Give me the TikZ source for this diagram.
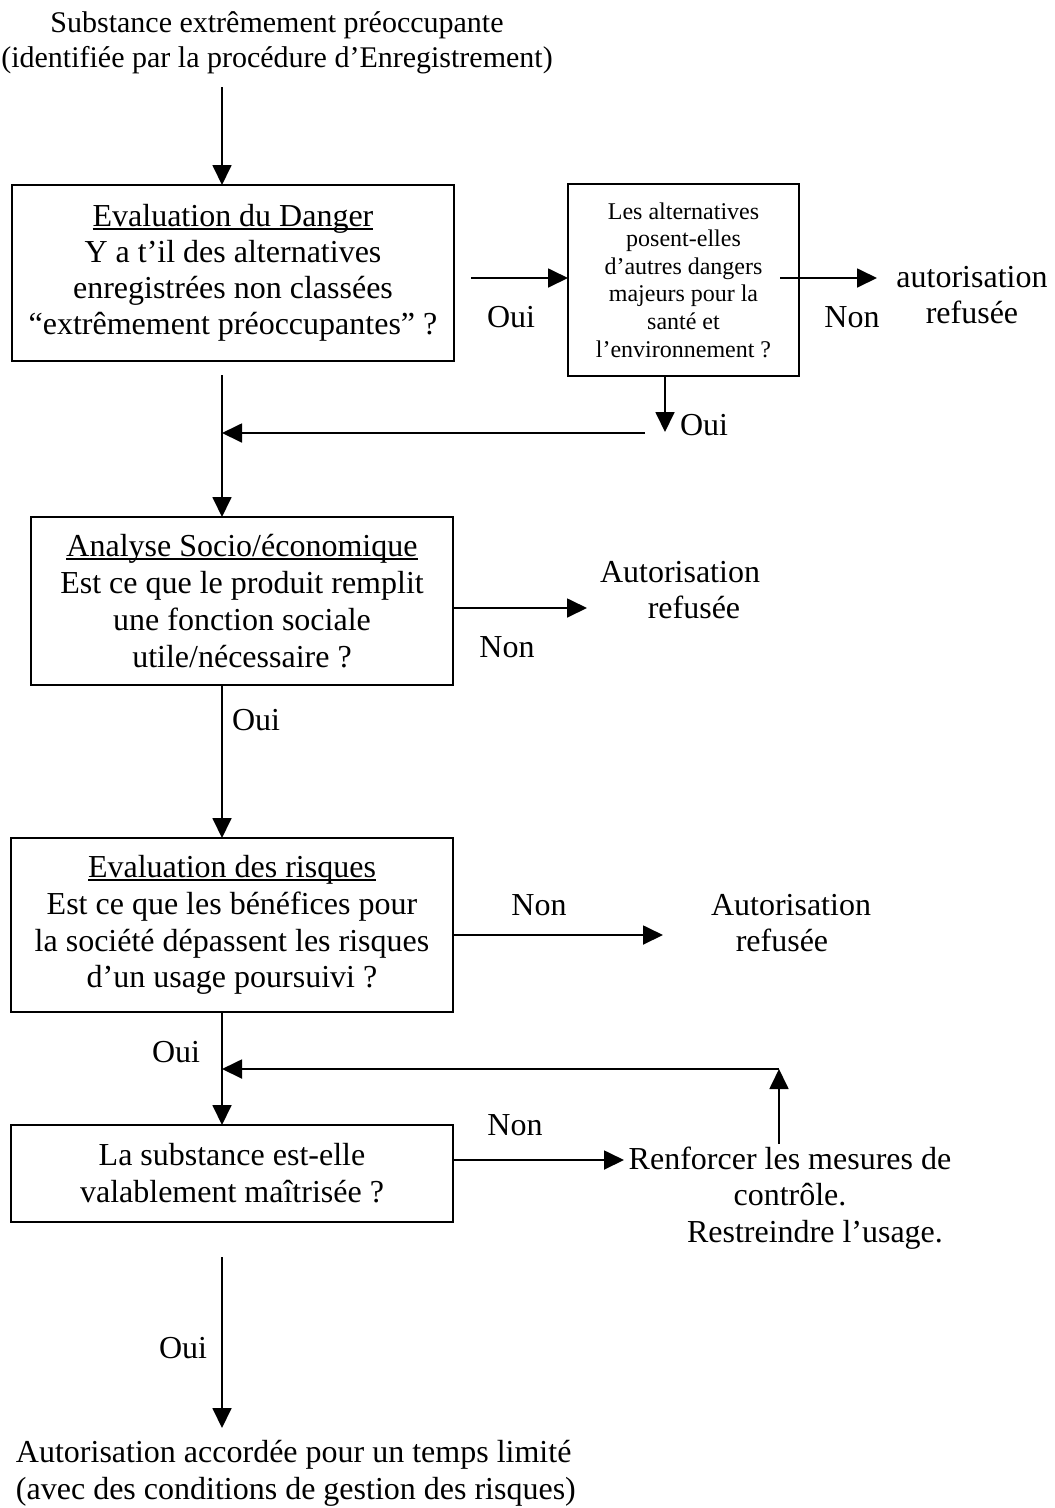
\documentclass[tikz,border=0pt]{standalone}
\usepackage{fontspec}
\setmainfont{Liberation Serif}
\usetikzlibrary{arrows.meta}
\newcommand\myul[1]{\setbox0\hbox{#1}\rlap{\rule[-3.5pt]{\wd0}{1.8pt}}\box0}
\begin{document}
\begin{tikzpicture}[x=1pt,y=-1pt,
  every node/.style={inner sep=0pt, outer sep=0pt, font=\fontsize{32}{36.8}\selectfont},
  txt/.style={align=center},
  boxst/.style={draw, line width=2.2pt, align=center},
  arr/.style={line width=1.8pt, -{Triangle[length=20pt,width=19pt]}}]
\useasboundingbox (0,0) rectangle (1055,1508);

% top source text
\node[txt, font=\fontsize{30}{35.5}\selectfont] (src) at (277,43) {Substance extrêmement préoccupante\\(identifiée par la procédure d’Enregistrement)};

% boxes
\node[boxst, minimum width=442pt, minimum height=176pt, font=\fontsize{32}{36}\selectfont] (b1) at (233,273)
  {\myul{Evaluation du Danger}\\Y a t’il des alternatives\\enregistrées non classées\\“extrêmement préoccupantes” ?};
\node[boxst, minimum width=231pt, minimum height=192pt, font=\fontsize{24}{27.6}\selectfont] (b2) at (683.5,280)
  {Les alternatives\\posent-elles\\d’autres dangers\\majeurs pour la\\santé et\\l’environnement ?};
\node[boxst, minimum width=422pt, minimum height=168pt] (b3) at (242,601)
  {\myul{Analyse Socio/économique}\\Est ce que le produit remplit\\une fonction sociale\\utile/nécessaire ?};
\node[boxst, minimum width=442pt, minimum height=174pt] (b4) at (232,925)
  {\myul{Evaluation des risques}\\Est ce que les bénéfices pour\\la société dépassent les risques\\d’un usage poursuivi ?};
\node[boxst, minimum width=442pt, minimum height=97pt] (b5) at (232,1173.5)
  {La substance est-elle\\valablement maîtrisée ?};

% outcome texts
\node[txt] (r1) at (972,295) {autorisation\\refusée};
\node[txt] (r3) at (680,590) {Autorisation\\\hspace*{28pt}refusée};
\node[txt] (r4) at (791,923) {Autorisation\\refusée\hspace*{18pt}};
\node[txt] (r5) at (790,1198) {Renforcer les mesures de\\contrôle.\hspace*{12pt}\\\hspace*{50pt}Restreindre l’usage.};
\node[align=left, anchor=west] (fin) at (16,1473) {Autorisation accordée pour un temps limité\\(avec des conditions de gestion des risques)};

% labels
\node (l1) at (511,317) {Oui};
\node (l2) at (852,317) {Non};
\node (l3) at (704,425) {Oui};
\node (l4) at (507,647) {Non};
\node (l5) at (256,720) {Oui};
\node (l6) at (539,905) {Non};
\node (l7) at (176,1052) {Oui};
\node (l8) at (515,1125) {Non};
\node (l9) at (183,1348) {Oui};

% coordinates
\coordinate (s1) at (222,87);
\coordinate (c1) at (222,375);
\coordinate (o1) at (471,278);
\coordinate (n1s) at (780,278);
\coordinate (n1e) at (877,278);
\coordinate (y2) at (665,432);
\coordinate (h2) at (645,433);
\coordinate (n3) at (587,608);
\coordinate (n4) at (663,935);
\coordinate (n5) at (624,1160);
\coordinate (u1) at (779,1144);
\coordinate (u2) at (779,1069);
\coordinate (f1) at (222,1257);
\coordinate (f2) at (222,1428);

% connectors
\draw[arr] (s1) -- (s1 |- b1.north);
\draw[arr] (c1) -- (c1 |- b3.north);
\draw[arr] (o1) -- (o1 -| b2.west);
\draw[arr] (n1s) -- (n1e);
\draw[arr] (y2 |- b2.south) -- (y2);
\draw[arr] (h2) -- (h2 -| c1);
\draw[arr] (n3 -| b3.east) -- (n3);
\draw[arr] (s1 |- b3.south) -- (s1 |- b4.north);
\draw[arr] (n4 -| b4.east) -- (n4);
\draw[arr] (s1 |- b4.south) -- (s1 |- b5.north);
\draw[arr] (n5 -| b5.east) -- (n5);
\draw[arr] (u1) -- (u2);
\draw[arr] (u2) -- (u2 -| s1);
\draw[arr] (f1) -- (f2);
\end{tikzpicture}
\end{document}
